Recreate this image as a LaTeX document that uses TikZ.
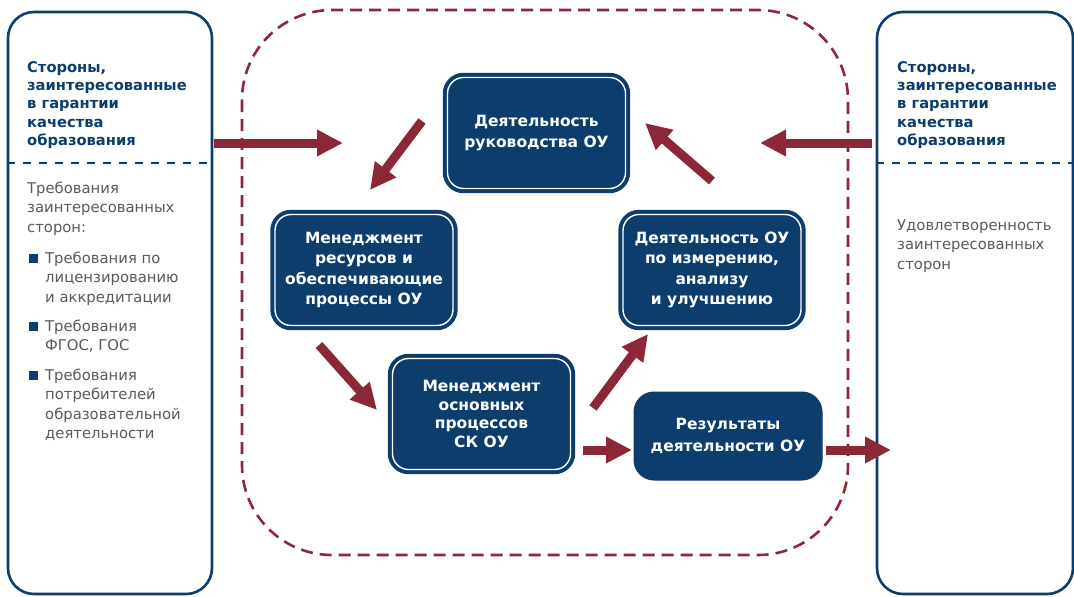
\documentclass[tikz,border=0pt]{standalone}
\usepackage{fontspec}
\setmainfont{DejaVu Sans}
\usetikzlibrary{arrows.meta}
\definecolor{navy}{HTML}{0D3D6D}
\definecolor{wine}{HTML}{8C2737}
\definecolor{greytext}{HTML}{5A5A5A}
\tikzset{
  sidebox/.style={draw=navy, line width=2.6pt, rounded corners=26pt, fill=white},
  sep/.style={draw=navy, line width=2.6pt, dash pattern=on 8pt off 8pt},
  frame/.style={draw=wine, line width=2.6pt, rounded corners=90pt, dash pattern=on 12pt off 7pt},
  headtext/.style={anchor=north west, inner sep=0pt, align=left, text=navy,
    font=\fontsize{14.7}{18.3}\bfseries\selectfont},
  bodytext/.style={anchor=north west, inner sep=0pt, align=left, text=greytext,
    font=\fontsize{14.8}{19.5}\selectfont},
  bulletmark/.style={fill=navy, inner sep=0pt, minimum size=9pt},
  procbox/.style={fill=navy, draw=navy, line width=4pt, double=white, double distance=1.4pt,
    rounded corners=16pt, minimum width=178pt, minimum height=111pt, align=center, text=white,
    font=\fontsize{15.5}{20.5}\bfseries\selectfont},
  resbox/.style={fill=navy, draw=navy, line width=1pt, rounded corners=20pt,
    minimum width=188pt, minimum height=88pt, align=center, text=white,
    font=\fontsize{15.5}{21.5}\bfseries\selectfont},
  flow/.style={draw=wine, line width=9pt, -{Triangle[length=26pt,width=25pt]}},
}
\begin{document}
\begin{tikzpicture}[x=1pt,y=-1pt]
\useasboundingbox (0,0) rectangle (1074,597);

% stakeholder columns
\node[sidebox, minimum width=204pt, minimum height=582pt] (lside) at (110,303) {};
\node[sidebox, minimum width=196pt, minimum height=582pt] (rside) at (975,303) {};
\draw[sep] (lside.west |- 0,163) coordinate (lsepa) -- (lside.east |- 0,163) coordinate (lsepb);
\draw[sep] (rside.west |- 0,163) coordinate (rsepa) -- (rside.east |- 0,163) coordinate (rsepb);

\node[headtext] (lhead) at (27,59.2) {\strut Стороны,\\заинтересованные\\в гарантии\\качества\\образования};
\node[headtext] (rhead) at (897,59.2) {\strut Стороны,\\заинтересованные\\в гарантии\\качества\\образования};

\node[bodytext] (lreq) at (27,179.4) {\strut Требования\\заинтересованных\\сторон:};
\node[bodytext] (item1) at (45,249.4) {\strut Требования по\\лицензированию\\и аккредитации};
\node[bodytext] (item2) at (45,317.4) {\strut Требования\\ФГОС, ГОС};
\node[bodytext] (item3) at (45,366.4) {\strut Требования\\потребителей\\образовательной\\деятельности};
\node[bulletmark] (bul1) at (33,258) {};
\node[bulletmark] (bul2) at (33,326) {};
\node[bulletmark] (bul3) at (33,375) {};

\node[bodytext] (rsat) at (897,216.4) {\strut Удовлетворенность\\заинтересованных\\сторон};

% organisation boundary
\draw[frame] (242,10) rectangle (848,555);

% processes
\node[procbox] (lead) at (536.5,133) {Деятельность\\руководства ОУ};
\node[procbox] (res) at (364,270) {Менеджмент\\ресурсов и\\обеспечивающие\\процессы ОУ};
\node[procbox] (meas) at (712,270) {Деятельность ОУ\\по измерению,\\анализу\\и улучшению};
\node[procbox, font=\fontsize{15.5}{18.5}\bfseries\selectfont] (core) at (481.5,414) {Менеджмент\\основных\\процессов\\СК ОУ};
\node[resbox] (out) at (728,436) {Результаты\\деятельности ОУ};

% flows
\coordinate (inLa) at (214,143);  \coordinate (inLb) at (343,143);
\coordinate (inRa) at (872,143);  \coordinate (inRb) at (760,143);
\coordinate (f1a) at (422,121);   \coordinate (f1b) at (370,190);
\coordinate (f2a) at (319,345);   \coordinate (f2b) at (377,410);
\coordinate (f3a) at (593,408);   \coordinate (f3b) at (648,334);
\coordinate (f4a) at (712,181);   \coordinate (f4b) at (645,123);
\coordinate (f5a) at (583,450);   \coordinate (f5b) at (632,450);
\coordinate (f6a) at (826,450);   \coordinate (f6b) at (891,450);
\draw[flow] (inLa) -- (inLb);
\draw[flow] (inRa) -- (inRb);
\draw[flow] (f1a) -- (f1b);
\draw[flow] (f2a) -- (f2b);
\draw[flow] (f3a) -- (f3b);
\draw[flow] (f4a) -- (f4b);
\draw[flow] (f5a) -- (f5b);
\draw[flow] (f6a) -- (f6b);
\end{tikzpicture}
\end{document}
